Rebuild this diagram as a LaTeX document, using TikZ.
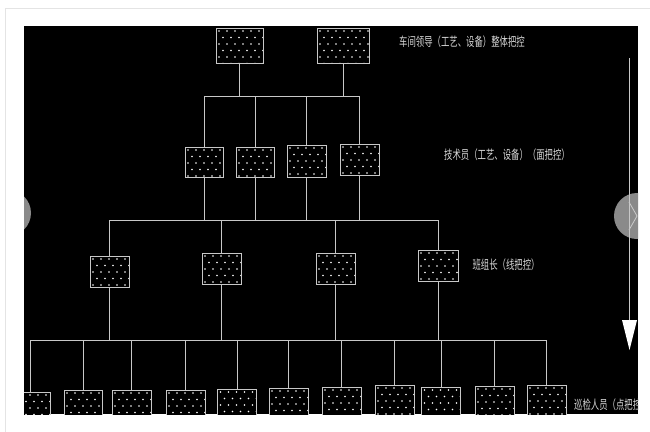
\documentclass[tikz,border=0pt]{standalone}
\usepackage{fontspec}
\newfontfamily\cjk{Noto Sans CJK SC}
\definecolor{linegray}{RGB}{200,200,200}
\definecolor{textgray}{RGB}{215,215,215}
\definecolor{navgray}{RGB}{138,138,138}
\definecolor{cardgray}{RGB}{228,228,228}
\tikzset{
  conn/.style={draw=linegray, line width=0.8pt},
  dotbox/.style={draw=linegray, fill=black, line width=0.8pt, inner sep=0pt, outer sep=0pt,
    path picture={
      \foreach \i in {0,...,8} \foreach \j in {0,...,7} {
        \pgfmathsetmacro\dx{\i*8+3+mod(\j,2)*4}
        \pgfmathsetmacro\dy{\j*6.5+3}
        \fill[white] ([xshift=\dx pt, yshift=-\dy pt]path picture bounding box.north west) circle (0.8pt);
      }}},
  lab/.style={text=textgray, font=\cjk\fontsize{12.5}{13}\selectfont, xscale=0.67, inner sep=0pt},
}
\begin{document}
\begin{tikzpicture}[x=1pt,y=-1pt]
\useasboundingbox (0,0) rectangle (650,431);
\fill[white] (0,0) rectangle (650,431);
\draw[cardgray, line width=0.8pt] (5,440) -- (5,8) -- (660,8);
\begin{scope}
\clip (24,26) rectangle (638,414);
\fill[black] (24,26) rectangle (638,414);
% navigation circles
\fill[navgray] (8,213) circle (23);
\fill[navgray] (637,216) circle (23);
\draw[gray!40!white, line width=0.8pt] (629,202) -- (637,216) -- (629,230);
% level 1
\node[dotbox, minimum width=47, minimum height=35] (t1) at (239.5,45.5) {};
\node[dotbox, minimum width=52, minimum height=35] (t2) at (343,45.5) {};
% level 2
\node[dotbox, minimum width=38, minimum height=30] (s1) at (204,162) {};
\node[dotbox, minimum width=38, minimum height=30] (s2) at (255,162) {};
\node[dotbox, minimum width=39, minimum height=32] (s3) at (306.5,161) {};
\node[dotbox, minimum width=39, minimum height=31] (s4) at (359.5,159.5) {};
% level 3
\node[dotbox, minimum width=39, minimum height=31] (m1) at (109.5,271.5) {};
\node[dotbox, minimum width=39, minimum height=31] (m2) at (221.5,268.5) {};
\node[dotbox, minimum width=39, minimum height=31] (m3) at (335.5,268.5) {};
\node[dotbox, minimum width=40, minimum height=31] (m4) at (438,265.5) {};
% level 4
\node[dotbox, anchor=north, minimum width=39, minimum height=32] (w1) at (30.5,392) {};
\node[dotbox, anchor=north, minimum width=38, minimum height=32] (w2) at (83,390) {};
\node[dotbox, anchor=north, minimum width=39, minimum height=32] (w3) at (131.5,390) {};
\node[dotbox, anchor=north, minimum width=39, minimum height=32] (w4) at (185.5,390) {};
\node[dotbox, anchor=north, minimum width=39, minimum height=32] (w5) at (237,389) {};
\node[dotbox, anchor=north, minimum width=39, minimum height=32] (w6) at (288.5,388) {};
\node[dotbox, anchor=north, minimum width=39, minimum height=32] (w7) at (341.5,387) {};
\node[dotbox, anchor=north, minimum width=39, minimum height=32] (w8) at (394.5,385) {};
\node[dotbox, anchor=north, minimum width=39, minimum height=32] (w9) at (441,387) {};
\node[dotbox, anchor=north, minimum width=39, minimum height=32] (w10) at (494.5,386) {};
\node[dotbox, anchor=north, minimum width=39, minimum height=32] (w11) at (546.5,385) {};
% buses
\coordinate (busA) at (0,96);
\coordinate (busB) at (0,220);
\coordinate (busC) at (0,340);
\draw[conn] (t1.south) -- (t1.south |- busA);
\draw[conn] (t2.south) -- (t2.south |- busA);
\draw[conn] (s1.north |- busA) -- (s4.north |- busA);
\foreach \n in {s1,s2,s3,s4} \draw[conn] (\n.north |- busA) -- (\n.north);
\foreach \n in {s1,s2,s3,s4} \draw[conn] (\n.south) -- (\n.south |- busB);
\draw[conn] (m1.north |- busB) -- (m4.north |- busB);
\foreach \n in {m1,m2,m3,m4} \draw[conn] (\n.north |- busB) -- (\n.north);
\foreach \n in {m1,m2,m3,m4} \draw[conn] (\n.south) -- (\n.south |- busC);
\draw[conn] (w1.north |- busC) -- (w11.north |- busC);
\foreach \n in {w1,w2,w3,w4,w5,w6,w7,w8,w9,w10,w11} \draw[conn] (\n.north |- busC) -- (\n.north);
% labels
\node[lab] (l1) at (462,42) {车间领导（工艺、设备）整体把控};
\node[lab] (l2) at (507,155) {技术员（工艺、设备）（面把控）};
\node[lab] (l3) at (506,265) {班组长（线把控）};
\node[lab, anchor=west] (l4) at (574,405) {巡检人员（点把控）};
% arrow
\coordinate (arA) at (629.5,58);
\coordinate (arB) at (629.5,321);
\coordinate (arT) at (629.5,350);
\draw[linegray, line width=0.9pt] (arA) -- (arB);
\fill[white] (622,320) -- (637,320) -- (arT) -- cycle;
\end{scope}
\end{tikzpicture}
\end{document}
